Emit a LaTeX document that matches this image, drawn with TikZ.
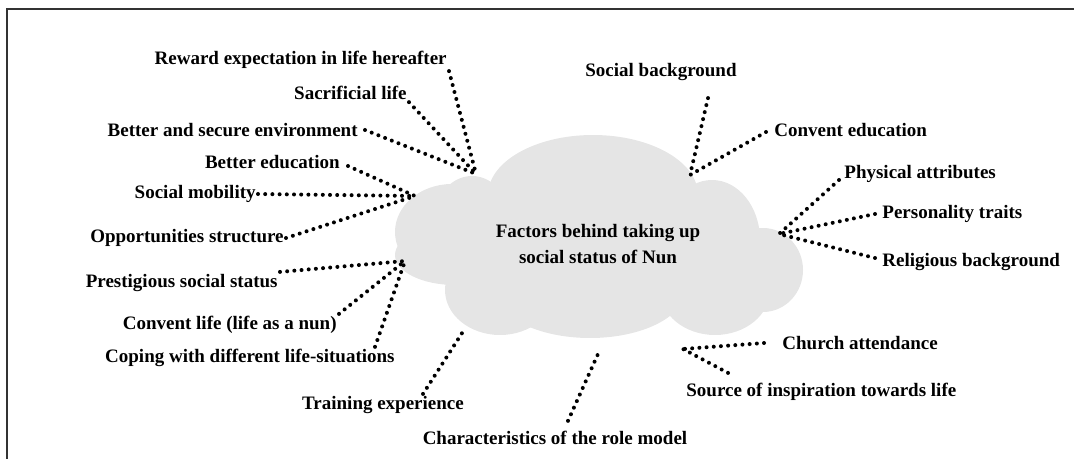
\documentclass[tikz,border=0pt]{standalone}
\usepackage{fontspec}
\setmainfont{Liberation Serif}
\definecolor{cloudgray}{RGB}{229,229,229}
\begin{document}
\begin{tikzpicture}[
  x=0.5pt, y=-0.5pt,
  factor/.style={inner sep=1pt,font=\bfseries\fontsize{9.5}{11}\selectfont},
  link/.style={line width=2pt,line cap=round,dash pattern=on 0pt off 3.6pt}]

  \useasboundingbox (0,0) rectangle (1074,459);
  \draw[line width=1pt,black!80] (7,459) -- (7,9) -- (1074,9);

  \foreach \cx/\cy/\rx/\ry in {452/232/57/48, 472/226/40/50, 455/255/60/30, 593/195/105/60,
    712/240/48/60, 763/270/40/42, 715/290/55/45, 590/290/95/48, 500/290/55/45, 600/250/160/70}
    \fill[cloudgray] (\cx,\cy) ellipse [x radius=\rx,y radius=\ry];

  \node(core)       [factor,align=center,font=\bfseries\fontsize{9.5}{13.4}\selectfont] at (598,244)
    {Factors behind taking up\\social status of Nun};

  \node(reward)     [factor,anchor=east] at (449,60)  {Reward expectation in life hereafter};
  \node(sacrifice)  [factor,anchor=east] at (409,93)  {Sacrificial life};
  \node(environ)    [factor,anchor=east] at (360,130) {Better and secure environment};
  \node(betteredu)  [factor,anchor=east] at (342,162) {Better education};
  \node(mobility)   [factor,anchor=east] at (258,194) {Social mobility};
  \node(opport)     [factor,anchor=east] at (286,238) {Opportunities structure};
  \node(prestige)   [factor,anchor=east] at (280,283) {Prestigious social status};
  \node(conventlife)[factor,anchor=east] at (339,325) {Convent life (life as a nun)};
  \node(coping)     [factor,anchor=east] at (397,358) {Coping with different life-situations};
  \node(training)   [factor]             at (383,405) {Training experience};
  \node(rolemodel)  [factor]             at (555,438) {Characteristics of the role model};

  \node(socialbg)   [factor]             at (661,72)  {Social background};
  \node(conventedu) [factor,anchor=west] at (772,130) {Convent education};
  \node(physical)   [factor,anchor=west] at (842,174) {Physical attributes};
  \node(personality)[factor,anchor=west] at (880,214) {Personality traits};
  \node(religious)  [factor,anchor=west] at (880,262) {Religious background};
  \node(church)     [factor,anchor=west] at (780,343) {Church attendance};
  \node(inspire)    [factor,anchor=west] at (684,392) {Source of inspiration towards life};

  \coordinate (hubnw) at (476,174);
  \coordinate (hubw)  at (415,196);
  \coordinate (hubsw) at (405,261);
  \coordinate (hubs)  at (464,330);
  \coordinate (hubb)  at (598,354);
  \coordinate (hubn)  at (690,175);
  \coordinate (hube)  at (779,234);
  \coordinate (hubse) at (683,349);

  \draw[link] (reward.south east) -- (hubnw);
  \draw[link] (sacrifice.south east) -- (hubnw);
  \draw[link] ([shift={(5,0)}]environ.east) -- (hubnw);
  \draw[link] ([shift={(6,4)}]betteredu.east) -- (hubw);
  \draw[link] (mobility.east) -- (hubw);
  \draw[link] (opport.east) -- (hubw);
  \draw[link] (prestige.north east) -- (hubsw);
  \draw[link] (conventlife.north east) -- (hubsw);
  \draw[link] ([shift={(-22,0)}]coping.north east) -- (hubsw);
  \draw[link] ([shift={(40,0)}]training.north) -- (hubs);
  \draw[link] ([shift={(13,-8)}]rolemodel.north) -- (hubb);
  \draw[link] ([shift={(47,15)}]socialbg.south) -- (hubn);
  \draw[link] ([shift={(-6,2)}]conventedu.west) -- (hubn);
  \draw[link] ([shift={(-3,6)}]physical.west) -- (hube);
  \draw[link] ([shift={(-5,0)}]personality.west) -- (hube);
  \draw[link] ([shift={(-5,-4)}]religious.west) -- (hube);
  \draw[link] ([shift={(-16,0)}]church.west) -- (hubse);
  \draw[link] ([shift={(44,-8)}]inspire.north west) -- (hubse);

\end{tikzpicture}
\end{document}
